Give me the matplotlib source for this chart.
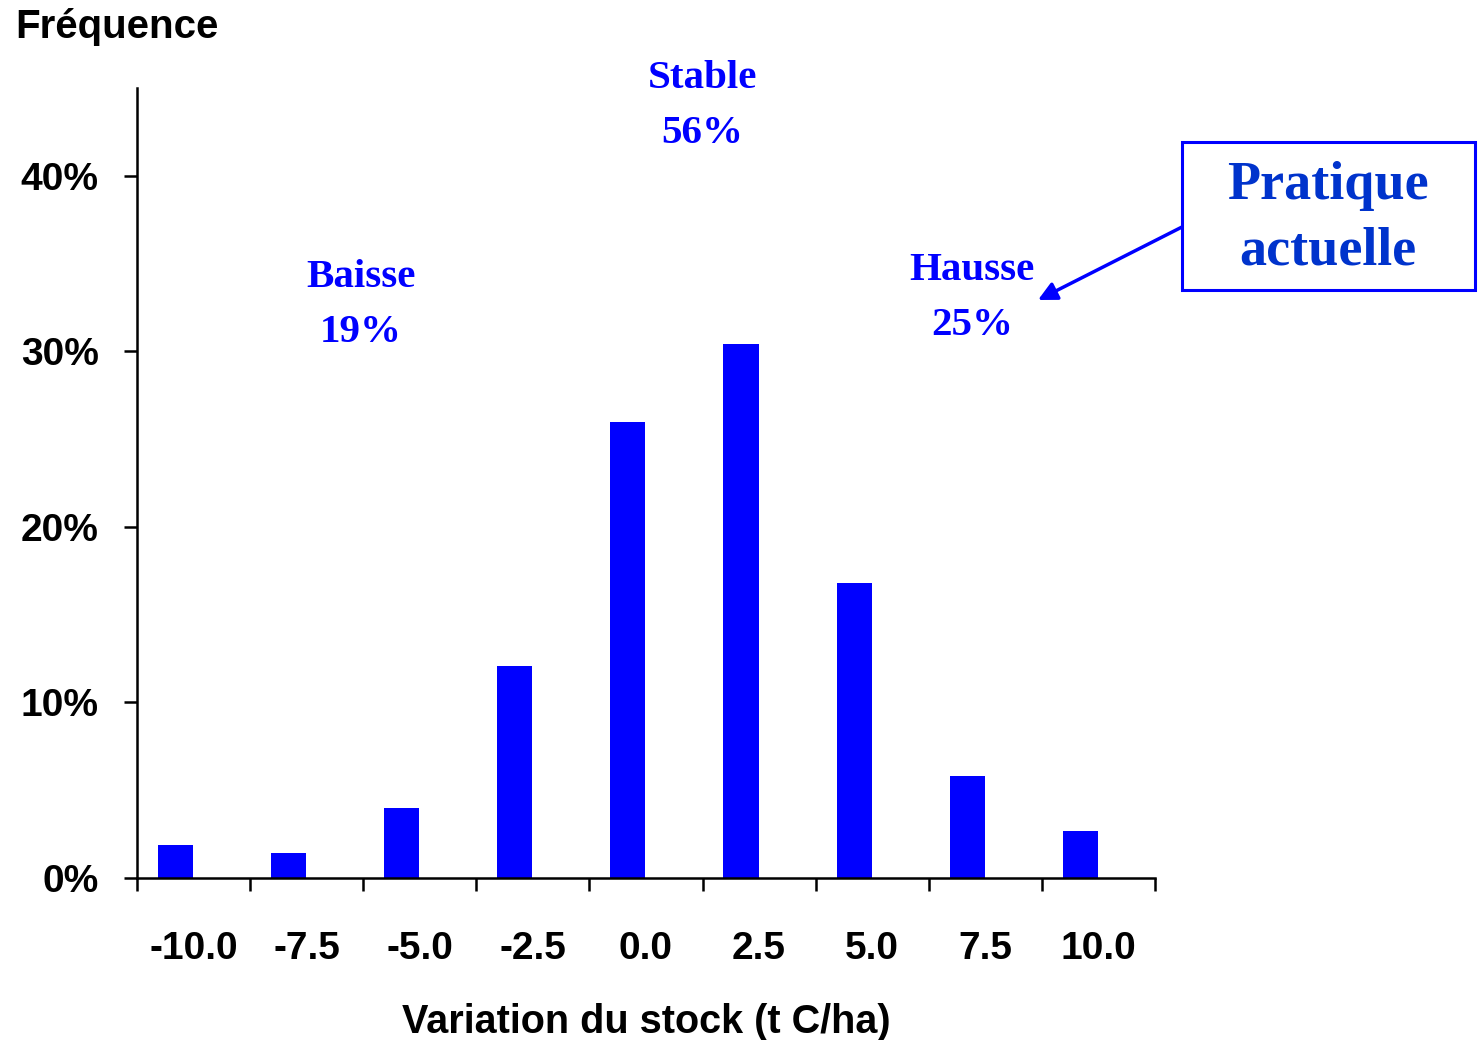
import matplotlib.pyplot as plt
from matplotlib.patches import Rectangle
from matplotlib.transforms import Bbox, TransformedBbox
import numpy as np

classes = ['-10.0', '-7.5', '-5.0', '-2.5', '0.0', '2.5', '5.0', '7.5', '10.0']
frequence = [1.9, 1.4, 4.0, 12.1, 26.0, 30.4, 16.8, 5.8, 2.7]
yticks = [0, 10, 20, 30, 40]
groupes = ['Baisse\n19%', 'Stable\n56%', 'Hausse\n25%']

blue = '#0000FF'
sans = ['Liberation Sans', 'DejaVu Sans']
serif = ['Liberation Serif', 'DejaVu Serif']

W, H = 1478, 1040
fig = plt.figure(figsize=(W / 100, H / 100), dpi=100)
ax = fig.add_axes([137 / W, 1 - 878 / H, 1018 / W, 790 / H])

x = np.arange(len(classes))
ax.bar(x - 0.16, frequence, width=0.31, color=blue, zorder=2)

ax.set_xlim(-0.5, len(classes) - 0.5)
ax.set_ylim(0, 45)

for s in ['top', 'right']:
    ax.spines[s].set_visible(False)
for s in ['left', 'bottom']:
    ax.spines[s].set_linewidth(1.8)

ax.set_yticks(yticks)
ax.set_yticklabels([f'{v}%' for v in yticks], fontsize=28, fontweight='bold', family=sans)
ax.tick_params(axis='y', direction='out', length=9.5, width=1.8, pad=18)

ax.set_xticks(x)
ax.set_xticklabels(classes, fontsize=28, fontweight='bold', family=sans)
ax.tick_params(axis='x', which='major', length=0, pad=38)
ax.set_xticks(np.arange(-0.5, len(classes)), minor=True)
ax.tick_params(axis='x', which='minor', direction='out', length=9, width=1.8)

ax.set_xlabel('Variation du stock (t C/ha)', fontsize=28.5, fontweight='bold',
              family=sans, labelpad=26)
fig.text(15 / W, 1 - 27 / H, 'Fréquence', fontsize=29, fontweight='bold', family=sans,
         ha='left', va='center')

# libellés des groupes (position en pixels de figure)
pos = [(361, 305), (702, 106), (972, 298)]
labels = []
for txt, (px, py) in zip(groupes, pos):
    t = fig.text(px / W, 1 - py / H, txt, fontsize=29.5, fontweight='bold',
                 family=serif, color=blue, ha='center', va='center', linespacing=1.65)
    labels.append(t)
# "56%" coupé en bas comme dans l'original
labels[1].set_clip_box(TransformedBbox(Bbox([[0, 1 - 143 / H], [1, 1]]), fig.transFigure))
labels[1].set_clip_on(True)

# encadré "Pratique actuelle"
fig.patches.append(Rectangle((1182 / W, 1 - 290 / H), 293 / W, 148 / H,
                             transform=fig.transFigure, fill=False,
                             edgecolor=blue, linewidth=2.2))
fig.text(1328 / W, 1 - 219 / H, 'Pratique\nactuelle', fontsize=39,
         fontweight='bold', family=serif, color='#0033CC', ha='center',
         va='center', linespacing=1.4)
ax.annotate('', xy=(1038 / W, 1 - 300 / H), xytext=(1182 / W, 1 - 227 / H),
            xycoords='figure fraction', textcoords='figure fraction',
            arrowprops=dict(arrowstyle='-|>', color=blue, lw=2.5,
                            mutation_scale=28, shrinkA=0, shrinkB=0))

fig.savefig('out.png', dpi=100)
